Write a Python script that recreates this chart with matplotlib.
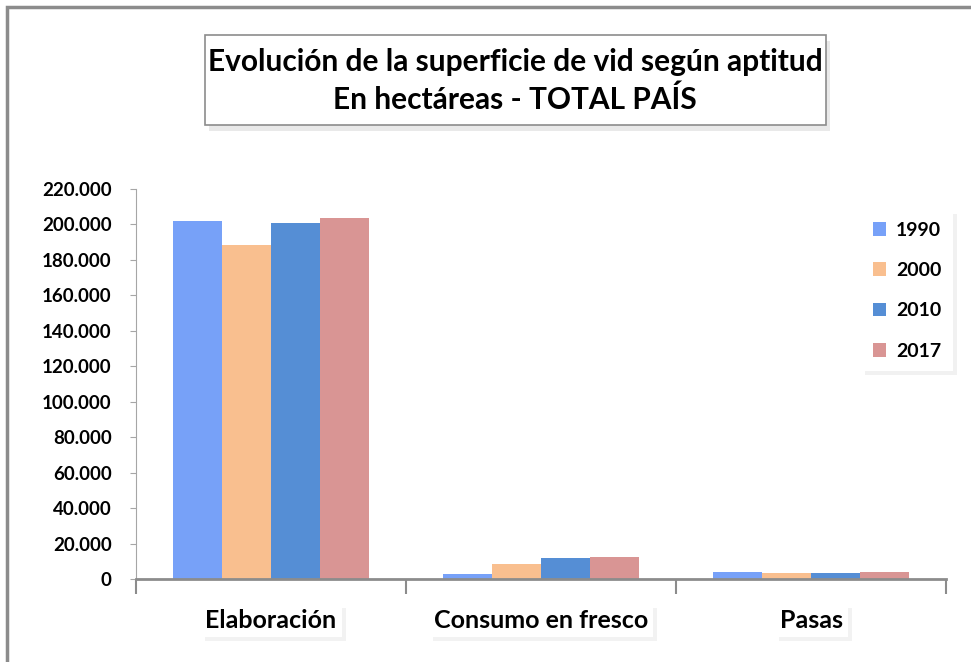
import numpy as np
import matplotlib.pyplot as plt
from matplotlib.patches import Rectangle
from matplotlib import patheffects as pe
from matplotlib.ticker import FuncFormatter

# data (hectares)
categories = ['Elaboración', 'Consumo en fresco', 'Pasas']
years = ['1990', '2000', '2010', '2017']
v1990 = [202000, 2800, 4000]
v2000 = [188500, 8500, 3500]
v2010 = [200800, 11900, 3500]
v2017 = [203800, 12400, 4100]
series = [v1990, v2000, v2010, v2017]
colors = ['#77a1f8', '#f9bf8f', '#558ed5', '#d99594']

plt.rcParams['font.family'] = ['Lato', 'DejaVu Sans']

fig = plt.figure(figsize=(9.71, 6.62), dpi=100)
W, H = 971, 662

# outer chart border (only top/left visible, rest cropped)
fig.patches.append(Rectangle((7 / W, -0.1), 1.2, 1 - 7 / H + 0.1, transform=fig.transFigure,
                             fill=False, ec='#8c8c8c', lw=2.5))

ax = fig.add_axes([136 / W, 1 - 579 / H, (946 - 136) / W, (579 - 189) / H])
x = np.arange(len(categories))
bw = 0.181
for i, (vals, c, lab) in enumerate(zip(series, colors, years)):
    ax.bar(x + (i - 1.5) * bw, vals, bw, color=c, label=lab, zorder=2)

ax.set_xlim(-0.5, 2.5)
ax.set_ylim(0, 220000)
ax.set_yticks(np.arange(0, 220001, 20000))
ax.yaxis.set_major_formatter(FuncFormatter(lambda v, p: f'{int(v):,}'.replace(',', '.')))
for s in ['top', 'right']:
    ax.spines[s].set_visible(False)
ax.spines['left'].set_color('#a6a6a6')
ax.spines['bottom'].set_color('#8c8c8c')
ax.spines['bottom'].set_linewidth(2)
ax.tick_params(axis='y', length=4.5, color='#a6a6a6', labelsize=13.5, pad=13)
for t in ax.get_yticklabels():
    t.set_fontweight('bold')
ax.set_xticks([-0.5, 0.5, 1.5, 2.5])
ax.set_xticklabels([])
ax.tick_params(axis='x', length=11, width=1.5, color='#8c8c8c')

shadow = [pe.SimplePatchShadow(offset=(3, -3), alpha=0.07), pe.Normal()]
for xi, cat in zip(x, categories):
    t = ax.text(xi, -0.107, cat, transform=ax.get_xaxis_transform(), ha='center', va='center',
                fontsize=18, fontweight='bold',
                bbox=dict(fc='white', ec='none', boxstyle='square,pad=0.2'))
    t.get_bbox_patch().set_path_effects(shadow)

# title box
box = Rectangle((205 / W, 1 - 125 / H), (826 - 205) / W, 90 / H, transform=fig.transFigure,
                fc='white', ec='#8c8c8c', lw=1.2)
box.set_path_effects([pe.SimplePatchShadow(offset=(3, -4), alpha=0.12), pe.Normal()])
fig.patches.append(box)
fig.text(515 / W, 1 - 81 / H, 'Evolución de la superficie de vid según aptitud\nEn hectáreas - TOTAL PAÍS',
         ha='center', va='center', fontsize=21.5, fontweight='bold', linespacing=1.4)

leg = ax.legend(loc='upper left', bbox_to_anchor=(861 / W, 1 - 210 / H), bbox_transform=fig.transFigure,
                frameon=True, fancybox=False, edgecolor='none', framealpha=1, fontsize=14,
                labelspacing=1.2, handlelength=0.7, handleheight=0.7, handletextpad=0.5,
                borderpad=0.6, borderaxespad=0)
for t in leg.get_texts():
    t.set_fontweight('bold')
leg.get_frame().set_path_effects([pe.SimplePatchShadow(offset=(3, -3), alpha=0.08), pe.Normal()])

fig.savefig('out.png', dpi=100)
